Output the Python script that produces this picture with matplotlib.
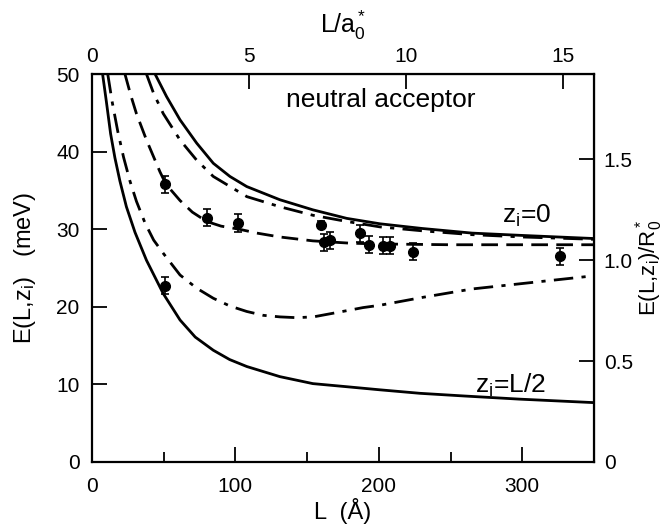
import matplotlib
matplotlib.use("Agg")
import matplotlib.pyplot as plt

plt.rcParams['font.family'] = ['Liberation Sans', 'DejaVu Sans']
plt.rcParams['mathtext.fontset'] = 'custom'
plt.rcParams['mathtext.rm'] = 'Liberation Sans'
plt.rcParams['mathtext.it'] = 'Liberation Sans'

# ---- data (L in Angstrom, E in meV) ----
A0 = 21.9   # a0* in Angstrom (top axis)
R0 = 26.0   # R0* in meV (right axis)

solid_top_L = [44, 52, 61.4, 73, 84.6, 96.2, 107.9, 131, 154, 177.6, 200.8, 230, 265, 300, 350]
solid_top_E = [50, 47.1, 44.1, 41.1, 38.5, 36.8, 35.5, 33.8, 32.5, 31.4, 30.7, 30.1, 29.5, 29.2, 28.8]

dashdot_top_L = [38, 43, 49.7, 61.4, 73, 84.6, 108, 131, 154, 177.6, 200.8, 230, 265, 300, 350]
dashdot_top_E = [50, 47.5, 44.9, 41.5, 38.9, 36.8, 34.2, 32.9, 31.8, 31.0, 30.3, 29.8, 29.3, 29.0, 28.7]

dashed_L = [23, 27, 31, 38, 47.4, 51.6, 61.4, 70, 80, 90, 102.7, 115, 131, 154, 180, 200.8, 250, 300, 350]
dashed_E = [50, 47.3, 44.9, 41.5, 37.4, 35.8, 33.7, 32.2, 31.0, 30.4, 30.0, 29.5, 29.0, 28.5, 28.2, 28.1, 28.0, 28.0, 28.0]

dashdot_low_L = [11, 14, 18, 22, 26.5, 31, 37, 43, 49.7, 61.4, 73, 84.6, 96.2, 107.9, 119.5, 131.1, 142.7,
                 154.3, 166, 177.6, 189, 200.8, 230, 265, 300, 350]
dashdot_low_E = [50, 46.5, 42.6, 39.3, 36.2, 33.6, 30.8, 28.6, 26.9, 24.1, 22.4, 21.1, 20.1, 19.4, 18.9, 18.7, 18.6,
                 18.7, 19.1, 19.5, 19.9, 20.2, 21.2, 22.3, 23.0, 24.0]

solid_low_L = [7.4, 10, 13, 16, 19.5, 24, 30, 38, 49.7, 61.4, 72, 84.6, 96, 108, 131, 154, 177.6, 200.8,
               228.7, 260, 298, 350]
solid_low_E = [50, 46.5, 42.3, 39.2, 36.2, 32.9, 29.6, 26.0, 21.7, 18.3, 16.1, 14.4, 13.2, 12.3, 11.0, 10.1,
               9.7, 9.3, 8.85, 8.5, 8.1, 7.65]

pts_L = [51, 51, 80, 102, 160, 162, 166, 187, 193, 203, 208, 224, 326]
pts_E = [35.8, 22.7, 31.5, 30.8, 30.6, 28.3, 28.6, 29.5, 28.0, 27.9, 27.9, 27.1, 26.5]
pts_err = [1.1, 1.1, 1.1, 1.1, 0.5, 1.1, 1.1, 1.1, 1.1, 1.1, 1.1, 1.1, 1.1]

x_ticks = [0, 100, 200, 300]
x_minor = [50, 150, 250]
y_ticks = [0, 10, 20, 30, 40, 50]
top_ticks = [0, 5, 10, 15]
right_ticks = [0, 0.5, 1.0, 1.5]
right_labels = ['0', '0.5', '1.0', '1.5']

# ---- figure ----
fig = plt.figure(figsize=(6.65, 5.29), dpi=100)
ax = fig.add_axes([0.1383, 0.1267, 0.7549, 0.7333])

lw = 2.0
dd = (0, (7, 3, 1.5, 3))
ax.plot(solid_top_L, solid_top_E, color='black', lw=lw, ls='-')
ax.plot(dashdot_top_L, dashdot_top_E, color='black', lw=lw, ls=dd)
ax.plot(dashed_L, dashed_E, color='black', lw=lw, ls=(0, (6, 3)))
ax.plot(dashdot_low_L, dashdot_low_E, color='black', lw=lw, ls=dd)
ax.plot(solid_low_L, solid_low_E, color='black', lw=lw, ls='-')
ax.errorbar(pts_L, pts_E, yerr=pts_err, fmt='o', color='black', ms=7,
            capsize=3, elinewidth=1.2, capthick=1.2)

ax.set_xlim(0, 350)
ax.set_ylim(0, 50)
ax.set_xticks(x_ticks)
ax.set_xticks(x_minor, minor=True)
ax.set_yticks(y_ticks)
ax.tick_params(axis='both', which='major', direction='in', length=11, width=1.3,
               labelsize=15, pad=9)
ax.tick_params(axis='x', which='major', pad=11)
ax.tick_params(axis='x', which='minor', direction='in', length=7, width=1.3)
for s in ax.spines.values():
    s.set_linewidth(1.6)

ax.set_xlabel('L  (Å)', fontsize=17, labelpad=1)
ax.set_ylabel(r'E(L,z$_\mathrm{i}$)   (meV)', fontsize=17, labelpad=13)

top = ax.secondary_xaxis('top', functions=(lambda L: L / A0, lambda u: u * A0))
top.set_xticks(top_ticks)
top.tick_params(direction='in', length=11, width=1.3, labelsize=15, pad=6)
top.set_xlabel(r'L/a$_0^*$', fontsize=18, labelpad=10)

right = ax.secondary_yaxis('right', functions=(lambda E: E / R0, lambda r: r * R0))
right.set_yticks(right_ticks)
right.set_yticklabels(right_labels)
right.tick_params(direction='in', length=11, width=1.3, labelsize=15, pad=7)
right.set_ylabel(r'E(L,z$_\mathrm{i}$)/R$_0^*$', fontsize=16, labelpad=0)

ax.text(201, 46.6, 'neutral acceptor', fontsize=19, ha='center', va='center')
ax.text(303, 31.7, r'z$_\mathrm{i}$=0', fontsize=19, ha='center', va='center')
ax.text(292, 9.9, r'z$_\mathrm{i}$=L/2', fontsize=19, ha='center', va='center')

fig.savefig('out.png', dpi=100)
